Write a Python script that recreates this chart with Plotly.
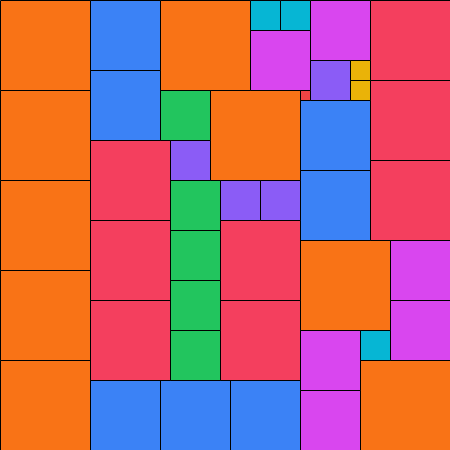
import plotly.graph_objects as go

# Cells: group, left, top, side length (units = px of the 450 square)
groups = ["orange", "blue", "rose", "green", "purple", "magenta", "cyan", "yellow", "red"]
colors = {
    "orange": "#f97316", "blue": "#3b82f6", "rose": "#f43f5e", "green": "#22c55e",
    "purple": "#8b5cf6", "magenta": "#d946ef", "cyan": "#06b6d4", "yellow": "#eab308",
    "red": "#ef4444",
}
cell_group = (["orange"] * 9 + ["blue"] * 7 + ["rose"] * 8 + ["green"] * 5 +
              ["purple"] * 4 + ["magenta"] * 6 + ["cyan"] * 3 + ["yellow"] * 2 + ["red"])
cell_x0 = [0, 0, 0, 0, 0, 160, 210, 300, 360,
           90, 90, 90, 160, 230, 300, 300,
           90, 90, 90, 370, 370, 370, 220, 220,
           160, 170, 170, 170, 170,
           170, 220, 260, 310,
           250, 310, 390, 390, 300, 300,
           250, 280, 360,
           350, 350,
           300]
cell_y0 = [0, 90, 180, 270, 360, 0, 90, 240, 360,
           0, 70, 380, 380, 380, 100, 170,
           140, 220, 300, 0, 80, 160, 220, 300,
           90, 180, 230, 280, 330,
           140, 180, 180, 60,
           30, 0, 240, 300, 330, 390,
           0, 0, 330,
           60, 80,
           90]
cell_size = [90, 90, 90, 90, 90, 90, 90, 90, 90,
             70, 70, 70, 70, 70, 70, 70,
             80, 80, 80, 80, 80, 80, 80, 80,
             50, 50, 50, 50, 50,
             40, 40, 40, 40,
             60, 60, 60, 60, 60, 60,
             30, 30, 30,
             20, 20,
             10]

fig = go.Figure()
for g in groups:
    idx = [i for i, c in enumerate(cell_group) if c == g]
    fig.add_trace(go.Bar(
        x=[cell_x0[i] + cell_size[i] / 2 for i in idx],
        y=[cell_size[i] for i in idx],
        base=[cell_y0[i] for i in idx],
        width=[cell_size[i] for i in idx],
        marker=dict(color=colors[g], line=dict(color="#000000", width=1)),
        name=g, hoverinfo="skip", showlegend=False,
    ))

fig.update_layout(
    width=450, height=450, margin=dict(l=0, r=0, t=0, b=0),
    barmode="overlay", bargap=0,
    paper_bgcolor="white", plot_bgcolor="white",
    xaxis=dict(range=[-0.5, 449.5], visible=False, fixedrange=True),
    yaxis=dict(range=[449.5, -0.5], visible=False, fixedrange=True),
)
fig.write_html("out.html", config={"displayModeBar": False},
               post_script="document.body.style.margin='0';document.body.style.overflow='hidden';")
